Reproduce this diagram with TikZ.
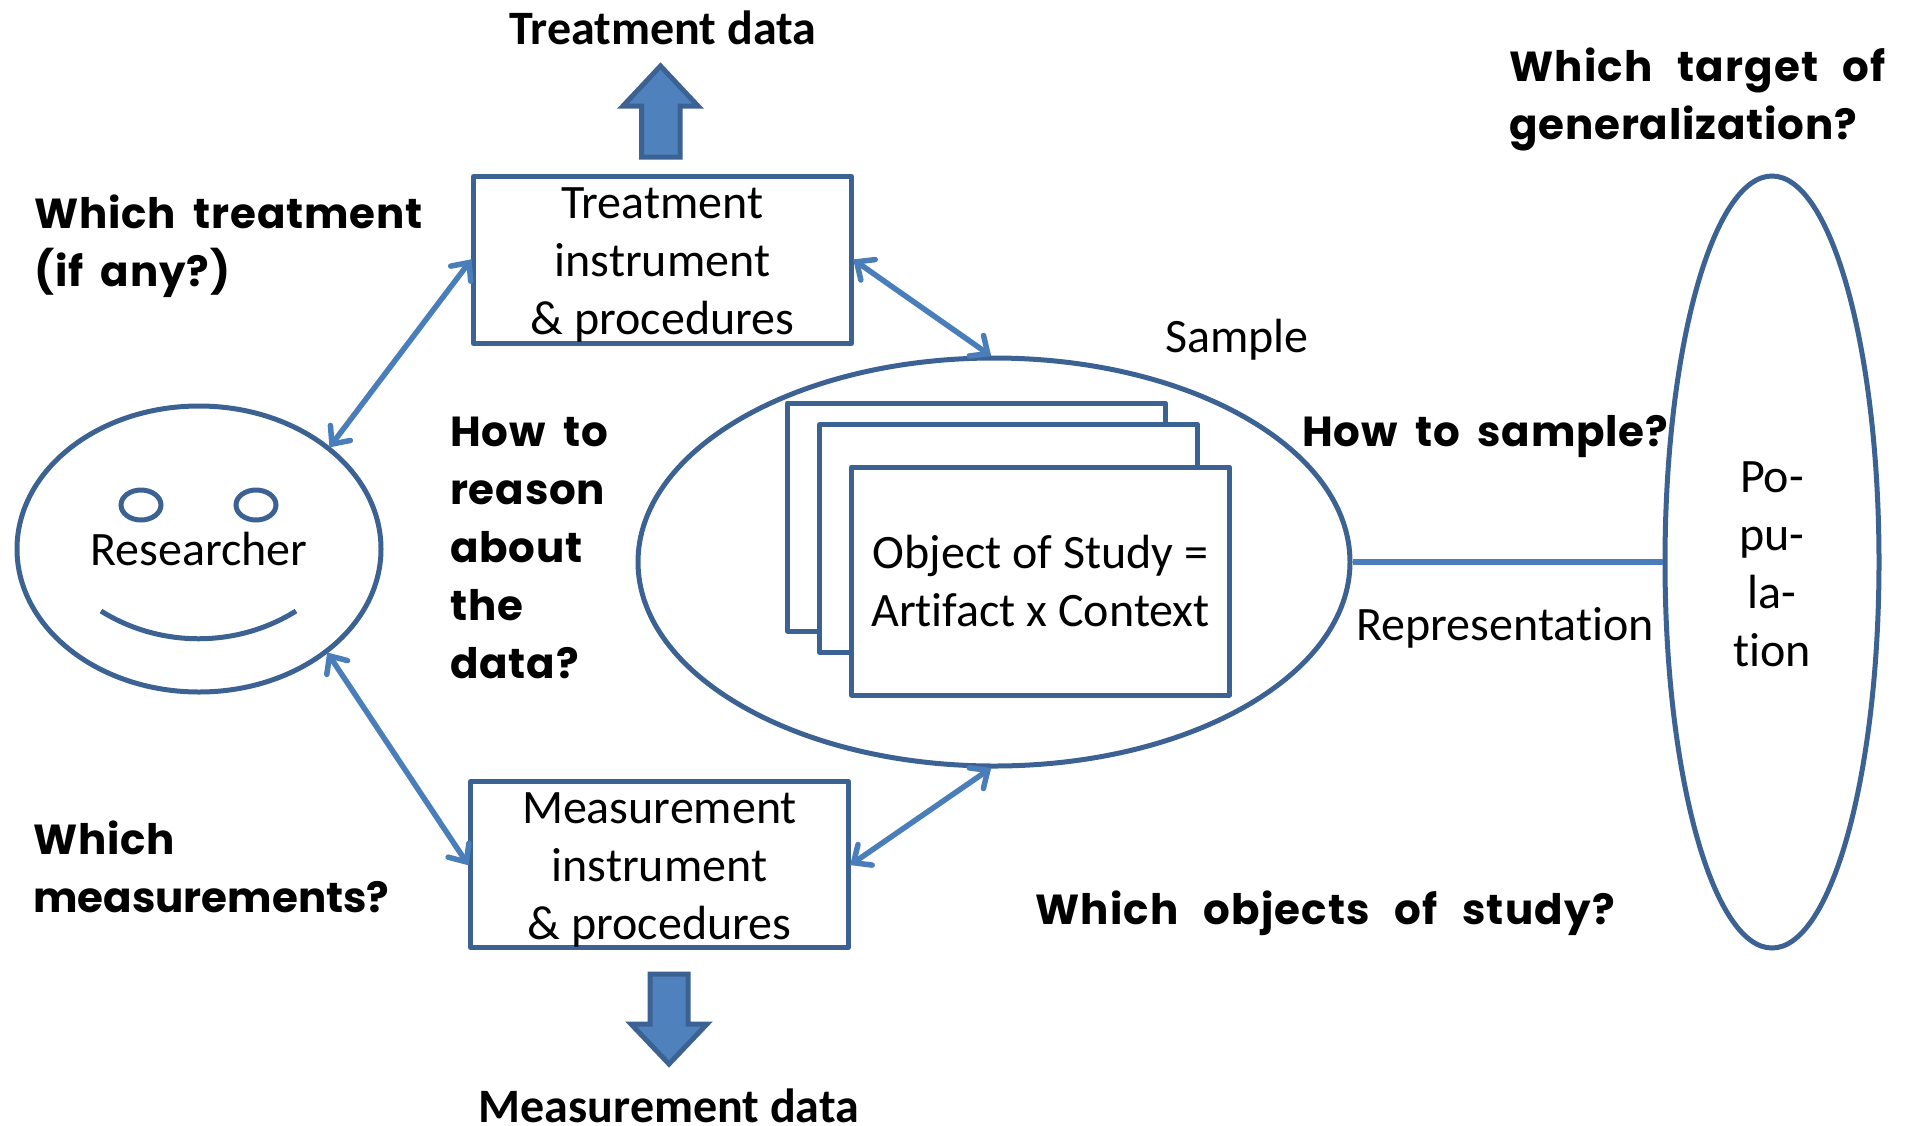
\documentclass[tikz,border=0pt]{standalone}
\usepackage{fontspec}
\setmainfont[Ligatures=NoCommon]{Carlito}
\newfontfamily\comicfont[WordSpace=1.8,LetterSpace=2]{Poppins}
\newfontfamily\comicwide[WordSpace=2.4,LetterSpace=3]{Poppins}
\newfontfamily\comictight[WordSpace=1.8,LetterSpace=0]{Poppins}
\usetikzlibrary{arrows.meta,shapes.geometric}
\definecolor{edgeblue}{HTML}{3C6294}
\definecolor{linkblue}{HTML}{4A7EBB}
\definecolor{fillblue}{HTML}{4F81BD}
\newcommand{\topstrut}[1]{\rule{0pt}{#1pt}}
\tikzset{
  body/.style={font=\fontsize{48}{58}\selectfont,align=center,inner sep=0pt,text=black},
  shapeedge/.style={draw=edgeblue,line width=5pt},
  boxshape/.style={body,shapeedge,rectangle,fill=white,minimum width=378pt,line join=round},
  ell/.style={body,shapeedge,ellipse,inner sep=0pt},
  link/.style={draw=linkblue,line width=5.5pt,{Straight Barb[length=14pt,width=25pt,line cap=round]}-{Straight Barb[length=14pt,width=25pt,line cap=round]},shorten >=-1pt,shorten <=-1pt},
  question/.style={font=\comicfont\bfseries\fontsize{42}{58}\selectfont,align=left,anchor=west,inner sep=0pt,text=black},
  datalabel/.style={font=\bfseries\fontsize{48}{54}\selectfont,inner sep=0pt,text=black},
  plainlabel/.style={body},
  blockarrow/.style={draw=edgeblue,fill=fillblue,line width=5pt,line join=miter},
}
\begin{document}
\begin{tikzpicture}[x=1pt,y=-1pt]
\useasboundingbox (0,0) rectangle (1905,1125);
% shapes
\node[ell,minimum width=364pt,minimum height=286pt] (researcher) at (199,549) {Researcher};
\node[ell,minimum width=712pt,minimum height=408pt] (sample) at (994,562) {};
\node[ell,minimum width=214pt,minimum height=772pt] (population) at (1772,562) {\topstrut{35}Po-\\pu-\\la-\\tion};
\node[boxshape,minimum height=167pt] (tbox) at (662.5,260) {\topstrut{41}Treatment\\instrument\\\& procedures};
\node[boxshape,minimum height=166pt] (mbox) at (659.5,864.5) {\topstrut{41}Measurement\\instrument\\\& procedures};
\node[boxshape,minimum height=228pt] (back) at (976.5,517) {};
\node[boxshape,minimum height=228pt] (mid) at (1008.5,538.5) {};
\node[boxshape,minimum height=228pt] (front) at (1040.5,581) {Object of Study =\\Artifact x Context};
% face
\node[ell,minimum width=40pt,minimum height=30pt] (eyeL) at (141,505) {};
\node[ell,minimum width=40pt,minimum height=30pt] (eyeR) at (256,505) {};
\coordinate (smileL) at (101,611);
\coordinate (smileR) at (296,611);
\draw[draw=edgeblue,line width=5pt] (smileL) .. controls (160,648) and (237,648) .. (smileR);
% connectors
\draw[link] (researcher.38) -- (tbox.west);
\draw[link] (tbox.east) -- (sample.91);
\draw[link] (researcher.-39) -- (mbox.west);
\draw[link] (mbox.east) -- (sample.-91);
\draw[draw=linkblue,line width=6pt] (sample.east) -- (population.west);
% block arrows
\draw[blockarrow] (641.5,157) -- (641.5,106) -- (623,106) -- (660.5,66) -- (698,106) -- (680,106) -- (680,157) -- cycle;
\draw[blockarrow] (650,974) -- (650,1024) -- (631,1024) -- (669,1064) -- (707,1024) -- (688,1024) -- (688,974) -- cycle;
% labels
\node[datalabel] (tdata) at (663,28) {Treatment data};
\node[datalabel] (mdata) at (669,1106) {Measurement data};
\node[plainlabel] (samplelabel) at (1237,340) {Sample};
\node[plainlabel] (replabel) at (1505,628) {Representation};
\node[question] (q1) at (34,246) {Which treatment\\(if any?)};
\node[question] (q2) at (450,548) {How to\\reason\\about\\the\\data?};
\node[question] (q3) at (33,867) {Which\\{\comictight measurements?}};
\node[question] (q4) at (1035,913) {{\comicwide Which objects of study?}};
\node[question] (q5) at (1302,437) {How to sample?};
\node[question] (q6) at (1509,99) {{\comicwide Which target of}\\generalization?};
\end{tikzpicture}
\end{document}
